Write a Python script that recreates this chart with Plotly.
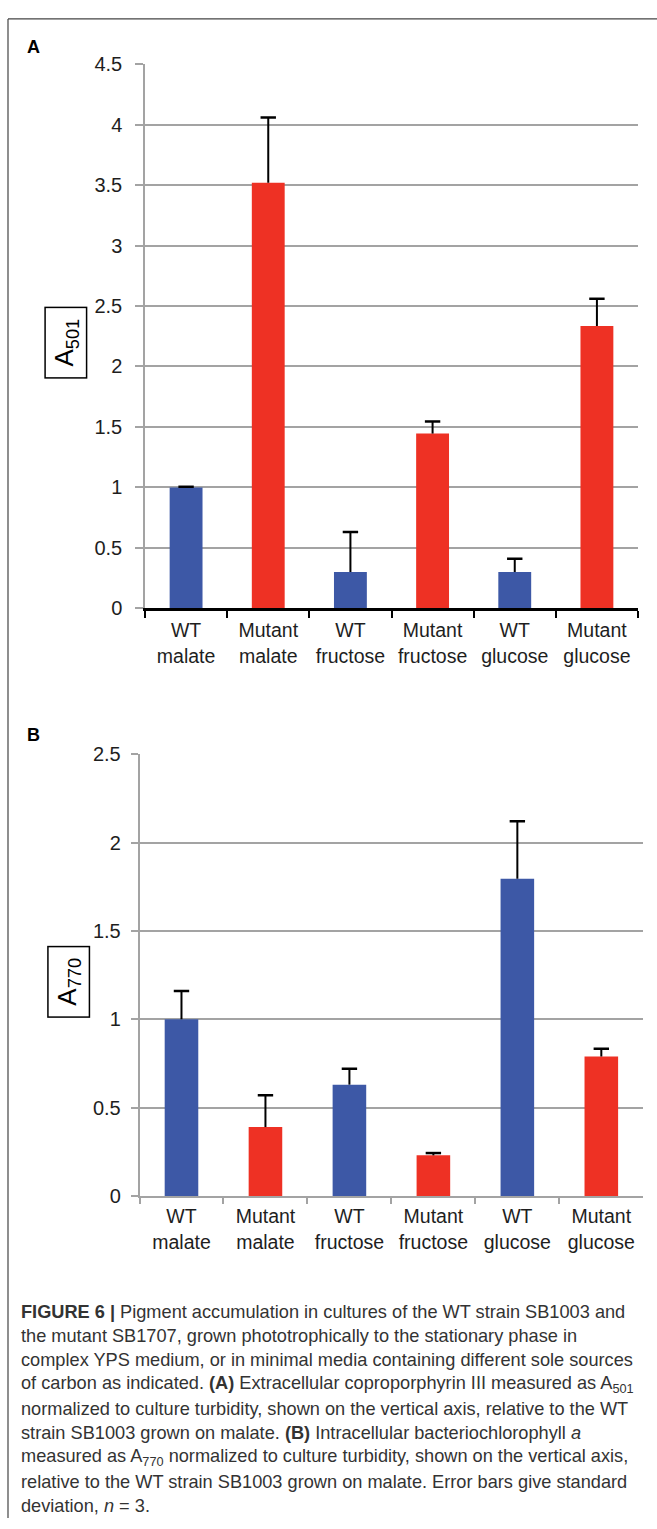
import plotly.graph_objects as go

W, H = 657, 1529

categories = ["WT<br>malate", "Mutant<br>malate", "WT<br>fructose",
              "Mutant<br>fructose", "WT<br>glucose", "Mutant<br>glucose"]
bar_colors_key = ["WT", "Mutant", "WT", "Mutant", "WT", "Mutant"]

a501_values = [1.00, 3.52, 0.30, 1.445, 0.30, 2.335]
a501_errors = [0.005, 0.54, 0.33, 0.10, 0.11, 0.225]

a770_values = [1.00, 0.39, 0.63, 0.23, 1.795, 0.79]
a770_errors = [0.16, 0.18, 0.09, 0.013, 0.325, 0.043]

a501_ticks = [0, 0.5, 1, 1.5, 2, 2.5, 3, 3.5, 4, 4.5]
a770_ticks = [0, 0.5, 1, 1.5, 2, 2.5]

caption_lines = [
    "<b>FIGURE 6 |</b> Pigment accumulation in cultures of the WT strain SB1003 and",
    "the mutant SB1707, grown phototrophically to the stationary phase in",
    "complex YPS medium, or in minimal media containing different sole sources",
    "of carbon as indicated. <b>(A)</b> Extracellular coproporphyrin III measured as A<sub>501</sub>",
    "normalized to culture turbidity, shown on the vertical axis, relative to the WT",
    "strain SB1003 grown on malate. <b>(B)</b> Intracellular bacteriochlorophyll <i>a</i>",
    "measured as A<sub>770</sub> normalized to culture turbidity, shown on the vertical axis,",
    "relative to the WT strain SB1003 grown on malate. Error bars give standard",
    "deviation, <i>n</i> = 3.",
]

BLUE = "#3D58A6"
RED = "#EE3124"
GRID = "#A3A3A3"
FONT = "Liberation Sans, Arial, sans-serif"
color_map = {"WT": BLUE, "Mutant": RED}
colors = [color_map[k] for k in bar_colors_key]


def px_x(p):
    return p / W


def px_y(p):
    return 1 - p / H


fig = go.Figure()


def add_panel(values, errors, xa, ya):
    fig.add_trace(go.Bar(x=categories, y=values, marker=dict(color=colors, line=dict(width=0)),
                         xaxis=xa, yaxis=ya, showlegend=False, hoverinfo="skip"))
    ex, ey = [], []
    for c, v, e in zip(categories, values, errors):
        ex += [c, c, None]
        ey += [v, v + e, None]
    fig.add_trace(go.Scatter(x=ex, y=ey, mode="lines", line=dict(color="black", width=2),
                             xaxis=xa, yaxis=ya, showlegend=False, hoverinfo="skip"))
    fig.add_trace(go.Scatter(x=categories, y=[v + e for v, e in zip(values, errors)],
                             mode="markers",
                             marker=dict(symbol="line-ew", size=11, color="black",
                                         line=dict(color="black", width=2.5)),
                             xaxis=xa, yaxis=ya, showlegend=False, hoverinfo="skip"))


add_panel(a501_values, a501_errors, "x", "y")
add_panel(a770_values, a770_errors, "x2", "y2")

tickfont = dict(family=FONT, size=20, color="#1E1E1E")
xtickfont = dict(family=FONT, size=19.5, color="#1E1E1E")

fig.update_layout(
    width=W, height=H,
    margin=dict(l=0, r=0, t=0, b=0),
    paper_bgcolor="white", plot_bgcolor="white",
    bargap=0.6,
    xaxis=dict(domain=[px_x(145), px_x(638)], anchor="y", type="category",
               categoryorder="array", categoryarray=categories,
               showline=True, linecolor="black", linewidth=2.5,
               ticks="outside", tickson="boundaries", ticklen=7, tickwidth=2, tickcolor="black",
               showgrid=False, tickfont=xtickfont, ticklabelstandoff=3),
    yaxis=dict(domain=[px_y(606), px_y(54)], anchor="x", range=[0, 4.5],
               tickvals=a501_ticks, ticktext=[f"{t:g}" for t in a501_ticks],
               showline=True, linecolor=GRID, linewidth=1.5,
               ticks="outside", ticklen=8, tickwidth=1.5, tickcolor=GRID,
               showgrid=True, gridcolor=GRID, gridwidth=1.5, zeroline=False,
               tickfont=tickfont, ticklabelstandoff=9),
    xaxis2=dict(domain=[px_x(139.5), px_x(643.3)], anchor="y2", type="category",
                categoryorder="array", categoryarray=categories,
                showline=True, linecolor=GRID, linewidth=1.5,
                ticks="outside", tickson="boundaries", ticklen=6, tickwidth=1.5, tickcolor=GRID,
                showgrid=False, tickfont=xtickfont, ticklabelstandoff=2),
    yaxis2=dict(domain=[px_y(1202.3), px_y(754)], anchor="x2", range=[0, 2.5],
                tickvals=a770_ticks, ticktext=[f"{t:g}" for t in a770_ticks],
                showline=True, linecolor=GRID, linewidth=1.5,
                ticks="outside", ticklen=7, tickwidth=1.5, tickcolor=GRID,
                showgrid=True, gridcolor=GRID, gridwidth=1.5, zeroline=False,
                tickfont=tickfont, ticklabelstandoff=6),
)

annotations = []
# panel letters
for letter, cx, cy in [("A", 33.5, 36.5), ("B", 33, 735)]:
    annotations.append(dict(text=f"<b>{letter}</b>", x=px_x(cx), y=px_y(cy), xref="paper", yref="paper",
                            xanchor="center", yanchor="middle", showarrow=False,
                            font=dict(family=FONT, size=18, color="black")))
# y-axis title boxes
for txt, cx, cy in [("A<sub>501</sub>", 66, 336.5), ("A<sub>770</sub>", 69, 985)]:
    annotations.append(dict(text=txt, x=px_x(cx), y=px_y(cy), xref="paper", yref="paper",
                            xanchor="center", yanchor="middle", showarrow=False, textangle=-90,
                            width=67, height=38, borderpad=1, bordercolor="black", borderwidth=1.5,
                            bgcolor="white",
                            font=dict(family=FONT, size=26, color="black")))
# caption
for i, line in enumerate(caption_lines):
    annotations.append(dict(text=line, x=px_x(19), y=px_y(1320 + 24.6 * i), xref="paper", yref="paper",
                            xanchor="left", yanchor="middle", showarrow=False, align="left",
                            font=dict(family=FONT, size=18.2, color="#333333")))
fig.update_layout(annotations=annotations)

# figure frame (left and top edges)
fig.update_layout(shapes=[
    dict(type="line", xref="paper", yref="paper", x0=px_x(8), x1=1, y0=px_y(8), y1=px_y(8),
         line=dict(color="#444444", width=1.2)),
    dict(type="line", xref="paper", yref="paper", x0=px_x(8), x1=px_x(8), y0=px_y(8), y1=0,
         line=dict(color="#444444", width=1.2)),
])

fig.write_html("out.html")
